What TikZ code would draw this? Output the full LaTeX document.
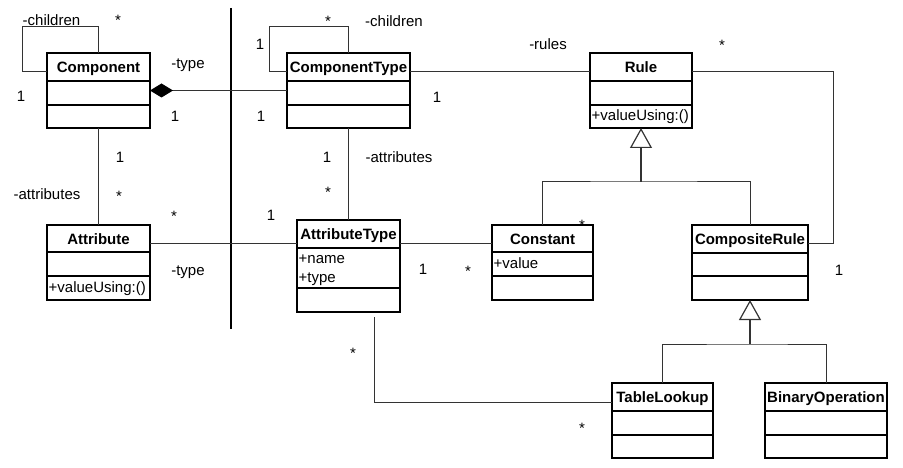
\documentclass[tikz,border=0pt]{standalone}
\usepackage{fontspec}
\setmainfont{Liberation Sans}
\usetikzlibrary{arrows.meta,fit,calc}
\tikzset{
  boxline/.style={draw=black,line width=1.4pt},
  conn/.style={draw=black!80,line width=1pt},
  title/.style={font=\fontsize{15}{18}\selectfont\bfseries,anchor=base,inner sep=0pt},
  member/.style={font=\fontsize{15}{18}\selectfont,anchor=base west,inner sep=0pt},
  lbl/.style={font=\fontsize{15}{18}\selectfont,anchor=base,inner sep=0pt},
  gen/.style={conn,line width=1.6pt,-{Triangle[open,length=20pt,width=22pt,line width=1.2pt]}},
}
% name, x1, y1, x2, y2, line1, line2, title
\newcommand{\umlbox}[8]{%
  \node[boxline,fit={(#2,#3) (#4,#5)},inner sep=0pt,outer sep=0pt] (#1) {};
  \draw[boxline] (#2,#6) -- (#4,#6);
  \draw[boxline] (#2,#7) -- (#4,#7);
  \node[title] (#1-t) at ({(#2+#4)/2},{#3+19.5}) {#8};
}
\begin{document}
\begin{tikzpicture}[x=1pt,y=-1pt]
\useasboundingbox (0,0) rectangle (903,468);

\umlbox{comp}{47}{53}{150}{128}{81}{105}{Component}
\umlbox{ctype}{287}{53}{410}{128}{81}{105}{ComponentType}
\umlbox{rule}{590}{53}{692}{128}{81}{105}{Rule}
\node[member] (rule-op) at (591.5,121) {+valueUsing:()};
\umlbox{attr}{47}{225}{150}{300}{252}{276}{Attribute}
\node[member] (attr-op) at (48.5,292) {+valueUsing:()};
\umlbox{atype}{297}{220}{400}{312}{248}{288}{AttributeType}
\node[member] (atype-a1) at (298.5,263) {+name};
\node[member] (atype-a2) at (298.5,282) {+type};
\umlbox{const}{492}{225}{593}{300}{252}{276}{Constant}
\node[member] (const-a1) at (493.5,268) {+value};
\umlbox{crule}{692}{225}{808}{300}{253}{276}{CompositeRule}
\umlbox{tlook}{612}{383}{713}{458}{411}{435}{TableLookup}
\umlbox{binop}{765}{383}{887}{458}{411}{435}{BinaryOperation}

% separator
\coordinate (sepT) at (231,8);
\coordinate (sepB) at (231,329);
\draw[line width=2pt] (sepT) -- (sepB);

% coordinates
\coordinate (loopA) at (22,27);
\coordinate (loopB) at (269,27);
\coordinate (rc) at (833,72);
\coordinate (g1) at (641,182);
\coordinate (g2) at (750,344);
\coordinate (atl) at (374,317);

% connectors
\draw[conn] ([yshift=18.5pt]comp.west) -| (loopA) -| (comp.north);
\draw[conn,{Diamond[length=23pt,width=14pt,fill=black,color=black]}-] (comp.east) -- (ctype.west);
\draw[conn] ([yshift=18.5pt]ctype.west) -| (loopB) -| (ctype.north);
\draw[conn] ([yshift=18.5pt]ctype.east) -- ([yshift=18.5pt]rule.west);
\draw[conn] ([yshift=18.5pt]rule.east) -- (rc) |- ([yshift=19.5pt]crule.east);
\draw[gen] (g1) -- (rule.south);
\draw[conn] (const.north) |- (g1) -| (crule.north);
\draw[conn] (comp.south) -- (attr.north);
\draw[conn] ([yshift=19.5pt]attr.east) -- ([yshift=23pt]atype.west);
\draw[conn] (ctype.south) -- (atype.north);
\draw[conn] ([yshift=23pt]atype.east) -- ([yshift=19.5pt]const.west);
\draw[conn] (atl) |- ([yshift=18.5pt]tlook.west);
\draw[gen] (g2) -- (crule.south);
\draw[conn] (tlook.north) |- (g2) -| (binop.north);

% labels
\node[lbl] (l1) at (51.5,26) {-children};
\node[lbl] (l2) at (118,26) {*};
\node[lbl] (l3) at (21,102) {1};
\node[lbl] (l4) at (188,69) {-type};
\node[lbl] (l5) at (175,122) {1};
\node[lbl] (l6) at (328,27) {*};
\node[lbl] (l7) at (394,27) {-children};
\node[lbl] (l8) at (260,50) {1};
\node[lbl] (l9) at (261,122) {1};
\node[lbl] (l10) at (437,103) {1};
\node[lbl] (l11) at (548,50) {-rules};
\node[lbl] (l12) at (722,51) {*};
\node[lbl] (l13) at (120,163) {1};
\node[lbl] (l14) at (47,200) {-attributes};
\node[lbl] (l15) at (119,201) {*};
\node[lbl] (l16) at (174,222) {*};
\node[lbl] (l17) at (188,275) {-type};
\node[lbl] (l18) at (327,163) {1};
\node[lbl] (l19) at (399,163) {-attributes};
\node[lbl] (l20) at (328,198) {*};
\node[lbl] (l21) at (271,221) {1};
\node[lbl] (l22) at (423,274) {1};
\node[lbl] (l23) at (468,276) {*};
\node[lbl] (l24) at (582,230) {*};
\node[lbl] (l25) at (839,275) {1};
\node[lbl] (l26) at (353,358) {*};
\node[lbl] (l27) at (582,433) {*};
\end{tikzpicture}
\end{document}
